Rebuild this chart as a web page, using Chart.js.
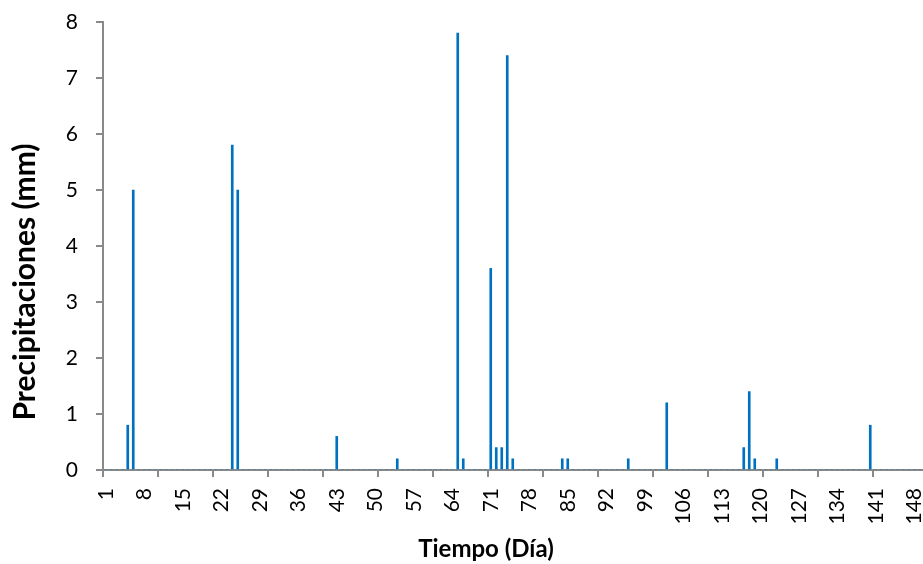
<!DOCTYPE html>
<html>
<head>
<meta charset="utf-8">
<script src="https://cdn.jsdelivr.net/npm/chart.js@4.4.1/dist/chart.umd.min.js"></script>
<style>
  html, body { margin: 0; padding: 0; overflow: hidden; background: #ffffff; }
  canvas { display: block; }
</style>
</head>
<body>
<canvas id="chart" width="972" height="564"></canvas>
<script>
// ---- data ----
const firstDay = 1;
const lastDay = 158;              // axis continues past the visible edge (label 148 is clipped)
const days = [];
for (let d = firstDay; d <= lastDay; d++) days.push(String(d));

const rainDays = [5, 6, 24, 25, 43, 54, 65, 66, 71, 72, 73, 74, 75, 84, 85, 96, 103, 117, 118, 119, 123, 140];
const rainMm   = [0.8, 5.0, 5.8, 5.0, 0.6, 0.2, 7.8, 0.2, 3.6, 0.4, 0.4, 7.4, 0.2, 0.2, 0.2, 0.2, 1.2, 0.4, 1.4, 0.2, 0.2, 0.8];

const yMin = 0, yMax = 8, yStep = 1;
const xLabelEvery = 7;
const xTickMarkEvery = 10;

const yTitle = 'Precipitaciones (mm)';
const xTitle = 'Tiempo (Día)';

// ---- build the series ----
const precip = days.map(d => {
  const k = rainDays.indexOf(Number(d));
  return k >= 0 ? rainMm[k] : 0;
});

// ---- styling / layout ----
const AXIS = '#898989';
const FONT = 'Lato';
const tickSize = 21;
const yTitleSize = 30, yTitleLH = yTitleSize * 1.2, yTitlePadTop = 25 - yTitleLH / 2;
const yTitleBox = yTitleLH + yTitlePadTop;
const xTitleSize = 24, xTitleLH = xTitleSize * 1.2, xTitlePadBottom = Math.max(0, 14 - xTitleLH / 2);
const xTitleBox = xTitleLH + xTitlePadBottom;
const plotLeft = 103, plotTop = 22, plotBottom = 470, H = 564;

new Chart(document.getElementById('chart'), {
  type: 'bar',
  data: {
    labels: days,
    datasets: [{
      data: precip,
      backgroundColor: '#0070C0',
      borderWidth: 0,
      barThickness: 2
    }]
  },
  options: {
    responsive: false,
    animation: false,
    layout: { padding: 0 },
    plugins: {
      legend: { display: false },
      tooltip: { enabled: false },
      title: {
        display: true, text: yTitle, position: 'left', color: '#000',
        font: { family: FONT, size: yTitleSize, weight: 'bold', lineHeight: 1.2 },
        padding: { top: yTitlePadTop, bottom: 0 }
      },
      subtitle: {
        display: true, text: xTitle, position: 'bottom', color: '#000',
        font: { family: FONT, size: xTitleSize, weight: 'bold', lineHeight: 1.2 },
        padding: { top: 0, bottom: xTitlePadBottom }
      }
    },
    scales: {
      x: {
        type: 'category',
        offset: true,
        grid: {
          offset: true, drawOnChartArea: false, drawTicks: true, tickLength: 7, lineWidth: 2,
          color: c => (c.index !== undefined && c.index % xTickMarkEvery === 0) ? AXIS : 'rgba(0,0,0,0)'
        },
        border: { color: AXIS, width: 2 },
        ticks: {
          autoSkip: false, minRotation: 90, maxRotation: 90, padding: 11, color: '#000',
          font: { family: FONT, size: tickSize },
          callback: (v, i) => (i % xLabelEvery === 0 ? days[i] : '')
        },
        afterFit: s => {
          s.height = (H - xTitleBox) - plotBottom;
          s.paddingLeft = 0; s.paddingRight = 0;
        }
      },
      y: {
        min: yMin, max: yMax,
        ticks: { stepSize: yStep, padding: 18, color: '#000', font: { family: FONT, size: tickSize } },
        grid: { drawOnChartArea: false, drawTicks: true, tickLength: 7, lineWidth: 2, color: AXIS },
        border: { color: AXIS, width: 2 },
        afterFit: s => {
          s.width = plotLeft - yTitleBox;
          s.paddingTop = plotTop; s.paddingBottom = 0;
        }
      }
    }
  }
});
</script>
</body>
</html>
